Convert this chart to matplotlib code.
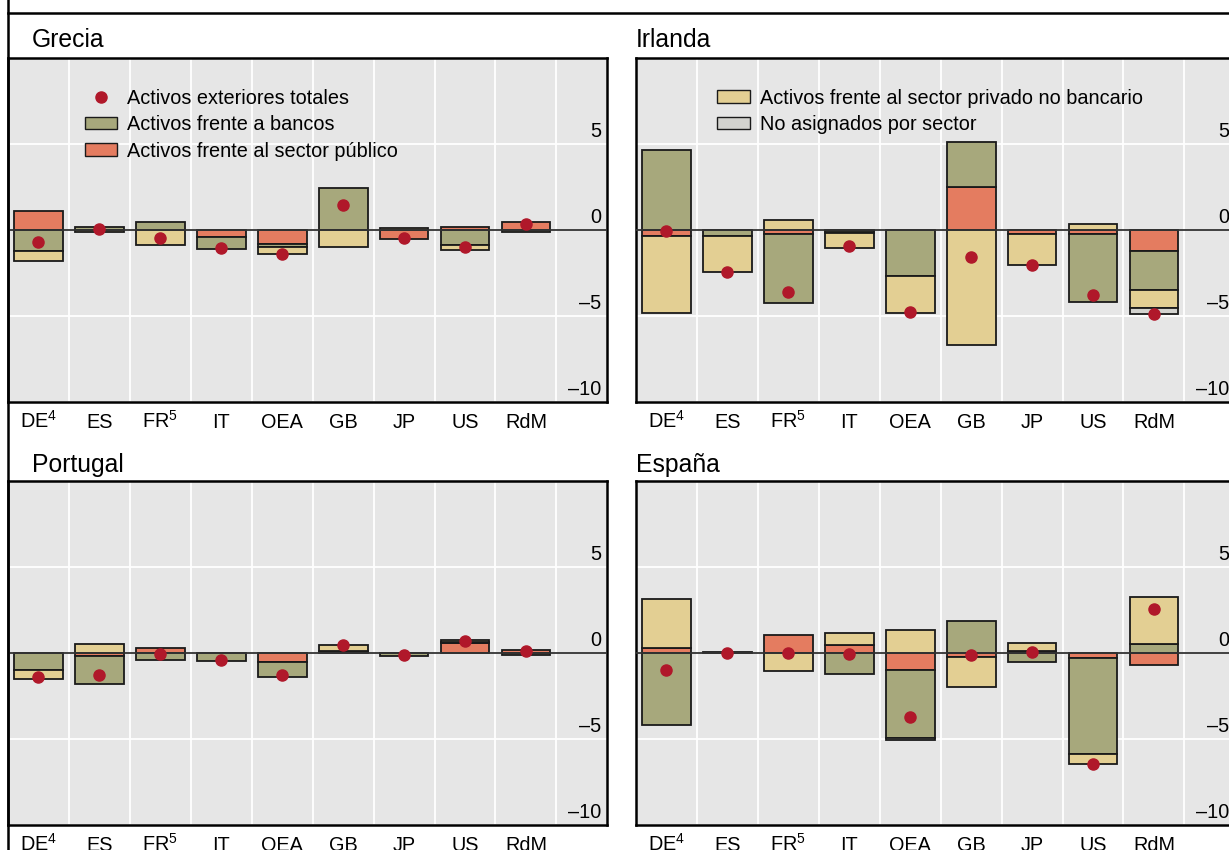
import numpy as np
import matplotlib.pyplot as plt
from matplotlib.patches import Patch
from matplotlib.lines import Line2D

plt.rcParams['font.family'] = ['Liberation Sans', 'DejaVu Sans']
plt.rcParams['mathtext.default'] = 'regular'

categorias = ['DE$^4$', 'ES', 'FR$^5$', 'IT', 'OEA', 'GB', 'JP', 'US', 'RdM']

# Grecia
grecia_bancos  = [-1.22, 0.15, 0.47, -0.71, -0.17, 2.44, 0.0, -0.85, -0.10]
grecia_publico = [1.12, 0.0, 0.0, -0.39, -0.83, 0.0, -0.52, 0.15, 0.47]
grecia_privado = [-0.58, -0.10, -0.89, 0.0, -0.41, -0.97, 0.10, -0.29, 0.0]
grecia_noasig  = [0.0, 0.0, 0.0, 0.0, 0.0, 0.0, 0.0, 0.0, 0.0]
grecia_total   = [-0.68, 0.08, -0.45, -1.07, -1.40, 1.47, -0.45, -1.00, 0.33]

# Irlanda
irlanda_bancos  = [4.67, -0.35, -4.01, -0.15, -2.67, 2.61, 0.0, -3.97, -2.23]
irlanda_publico = [-0.37, 0.0, -0.23, -0.05, 0.0, 2.49, -0.23, -0.23, -1.25]
irlanda_privado = [-4.43, -2.10, 0.58, -0.83, -2.16, -6.70, -1.81, 0.35, -1.03]
irlanda_noasig  = [0.0, 0.0, 0.0, 0.0, 0.0, 0.0, 0.0, 0.0, -0.35]
irlanda_total   = [-0.08, -2.42, -3.60, -0.95, -4.75, -1.57, -2.04, -3.80, -4.87]

# Portugal
portugal_bancos  = [-0.96, -1.63, -0.38, -0.48, -0.88, 0.10, -0.15, 0.05, -0.10]
portugal_publico = [0.0, -0.20, 0.27, 0.0, -0.50, 0.0, 0.0, 0.60, 0.15]
portugal_privado = [-0.54, 0.54, 0.0, 0.0, 0.0, 0.38, 0.0, 0.10, 0.0]
portugal_noasig  = [0.0, 0.0, 0.0, 0.0, 0.0, 0.0, 0.0, 0.0, 0.0]
portugal_total   = [-1.40, -1.25, -0.08, -0.38, -1.29, 0.48, -0.12, 0.71, 0.12]

# España
espana_bancos  = [-4.19, 0.03, 0.0, -1.20, -3.93, 1.84, -0.52, -5.58, 0.52]
espana_publico = [0.29, 0.0, 1.05, 0.47, -0.99, -0.25, 0.10, -0.29, -0.70]
espana_privado = [2.87, 0.0, -1.03, 0.67, 1.32, -1.73, 0.48, -0.58, 2.74]
espana_noasig  = [0.0, 0.0, 0.0, 0.0, -0.14, 0.0, 0.0, 0.0, 0.0]
espana_total   = [-1.00, 0.0, 0.0, -0.04, -3.70, -0.10, 0.08, -6.43, 2.54]

c_bancos = '#a7a87c'
c_publico = '#e47c60'
c_privado = '#e3cf93'
c_noasig = '#d3d3cf'
c_total = '#b0182a'
c_fondo = '#e6e6e6'

W, H = 1229, 850
fig = plt.figure(figsize=(W / 100, H / 100), dpi=100)


def dibujar_panel(rect, titulo, tx, ty, bancos, publico, privado, noasig, total):
    ax = fig.add_axes(rect)
    ax.set_facecolor(c_fondo)
    x = np.arange(len(categorias))
    pos = np.zeros(len(x))
    neg = np.zeros(len(x))
    # orden de apilado: publico, bancos, privado, no asignado
    for valores, color in [(publico, c_publico), (bancos, c_bancos),
                           (privado, c_privado), (noasig, c_noasig)]:
        v = np.array(valores, dtype=float)
        base = np.where(v >= 0, pos, neg)
        m = v != 0
        ax.bar(x[m], v[m], bottom=base[m], width=0.8, color=color,
               edgecolor='#1a1a1a', linewidth=1.3, zorder=2)
        pos += np.where(v > 0, v, 0)
        neg += np.where(v < 0, v, 0)
    ax.axhline(0, color='#333333', lw=1.3, zorder=3)
    ax.plot(x, total, 'o', color=c_total, ms=8, zorder=4)

    ax.set_xlim(-0.5, 9.33)
    ax.set_ylim(-10, 10)
    ax.set_xticks(x)
    ax.set_xticklabels(categorias)
    ax.set_xticks(np.arange(0.5, 9), minor=True)
    ax.set_yticks([-10, -5, 5, 10])
    ax.tick_params(axis='x', which='both', length=0, pad=18.5, labelsize=14.3)
    for lbl in ax.get_xticklabels():
        lbl.set_va('baseline')
    ax.tick_params(axis='y', which='both', length=0, labelleft=False)
    ax.grid(axis='x', which='minor', color='white', lw=1.3, zorder=0)
    ax.grid(axis='y', which='major', color='white', lw=1.3, zorder=0)
    ax.set_axisbelow(True)
    for s in ax.spines.values():
        s.set_linewidth(1.8)
        s.set_color('black')
    for v, lab in [(5, '5'), (0, '0'), (-5, '\u20135'), (-10, '\u201310')]:
        ax.text(0.99, v + 0.2, lab, transform=ax.get_yaxis_transform(),
                ha='right', va='bottom', fontsize=14.3, zorder=5)
    fig.text(tx / W, 1 - ty / H, titulo, ha='left', va='center', fontsize=17.8)
    return ax


ancho = 599 / W
alto = 344 / H
ax1 = dibujar_panel([8 / W, 1 - 402 / H, ancho, alto], 'Grecia', 32, 40,
                    grecia_bancos, grecia_publico, grecia_privado, grecia_noasig, grecia_total)
ax2 = dibujar_panel([636 / W, 1 - 402 / H, ancho, alto], 'Irlanda', 636, 40,
                    irlanda_bancos, irlanda_publico, irlanda_privado, irlanda_noasig, irlanda_total)
ax3 = dibujar_panel([8 / W, 1 - 825 / H, ancho, alto], 'Portugal', 32, 465,
                    portugal_bancos, portugal_publico, portugal_privado, portugal_noasig, portugal_total)
ax4 = dibujar_panel([636 / W, 1 - 825 / H, ancho, alto], 'España', 636, 465,
                    espana_bancos, espana_publico, espana_privado, espana_noasig, espana_total)

# leyendas
h1 = [Line2D([], [], ls='', marker='o', color=c_total, ms=8),
      Patch(facecolor=c_bancos, edgecolor='#1a1a1a', lw=1.0),
      Patch(facecolor=c_publico, edgecolor='#1a1a1a', lw=1.0)]
l1 = ['Activos exteriores totales', 'Activos frente a bancos',
      'Activos frente al sector público']
ax1.legend(h1, l1, loc='upper left', bbox_to_anchor=(0.128, 0.911), frameon=False,
           fontsize=14.3, borderpad=0, borderaxespad=0, handlelength=1.65,
           handleheight=0.6, labelspacing=0.38, handletextpad=0.5)
h2 = [Patch(facecolor=c_privado, edgecolor='#1a1a1a', lw=1.0),
      Patch(facecolor=c_noasig, edgecolor='#1a1a1a', lw=1.0)]
l2 = ['Activos frente al sector privado no bancario', 'No asignados por sector']
ax2.legend(h2, l2, loc='upper left', bbox_to_anchor=(0.135, 0.911), frameon=False,
           fontsize=14.3, borderpad=0, borderaxespad=0, handlelength=1.65,
           handleheight=0.6, labelspacing=0.38, handletextpad=0.5)

# marco
fig.add_artist(Line2D([8 / W, 1], [1 - 13 / H, 1 - 13 / H], transform=fig.transFigure,
                      color='black', lw=1.8))
fig.add_artist(Line2D([8 / W, 8 / W], [0, 1], transform=fig.transFigure,
                      color='black', lw=1.8))

fig.savefig('out.png', dpi=100)
